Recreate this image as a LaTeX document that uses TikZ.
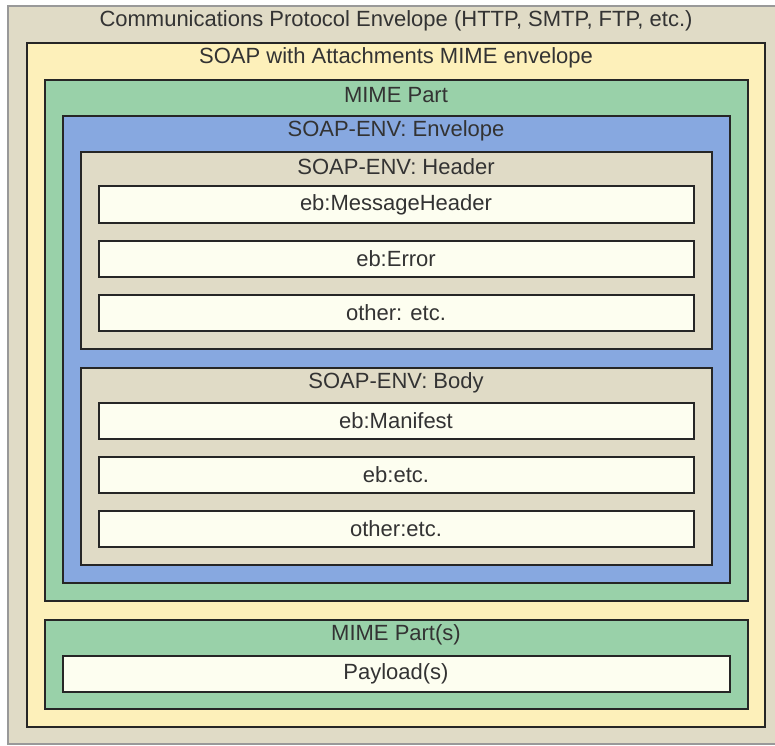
\documentclass[tikz,border=0pt]{standalone}
\usepackage{fontspec}
\setmainfont{Liberation Sans}
\begin{document}
\begin{tikzpicture}[x=1pt,y=-1pt,
  box/.style={draw=black!85,line width=1.6pt},
  beige/.style={box,fill=beigec},
  yel/.style={box,fill=yelc},
  grn/.style={box,fill=grnc},
  blu/.style={box,fill=bluc},
  wht/.style={box,fill=whtc},
  lbl/.style={font=\fontsize{22}{24}\selectfont,text=black!80,inner sep=0pt,anchor=center}]
\definecolor{beigec}{HTML}{E0DBC6}
\definecolor{yelc}{HTML}{FDF0BA}
\definecolor{grnc}{HTML}{99D1A9}
\definecolor{bluc}{HTML}{87A8E0}
\definecolor{whtc}{HTML}{FDFEF0}
\useasboundingbox (0,0) rectangle (775,745);
\clip (0,0) rectangle (775,745);
\fill[white] (0,0) rectangle (775,745);
% outer
\draw[fill=beigec,draw=black!40,line width=1.2pt] (8,6) rectangle (790,744);
\node[lbl] (tcomm) at (396,21) {Communications Protocol Envelope (HTTP, SMTP, FTP, etc.)};
% yellow
\draw[yel] (27,43) rectangle (765,727);
\node[lbl] (tsoap) at (396,58) {SOAP with Attachments MIME envelope};
% MIME Part
\draw[grn] (45,80) rectangle (748,601);
\node[lbl] (tmime) at (396,95) {MIME Part};
% Envelope
\draw[blu] (63,116) rectangle (730,583);
\node[lbl] (tenv) at (396,131) {SOAP-ENV: Envelope};
% Header
\draw[beige] (81,152) rectangle (712,349);
\node[lbl] (thead) at (396,167) {SOAP-ENV: Header};
\draw[wht] (99,186) rectangle (694,223);
\node[lbl] (mh) at (396,205) {eb:MessageHeader};
\draw[wht] (99,241) rectangle (694,277);
\node[lbl] (err) at (396,259) {eb:Error};
\draw[wht] (99,295) rectangle (694,331);
\node[lbl] (oth1) at (396,313) {other: etc.};
% Body
\draw[beige] (81,368) rectangle (712,565);
\node[lbl] (tbody) at (396,383) {SOAP-ENV: Body};
\draw[wht] (99,403) rectangle (694,439);
\node[lbl] (man) at (396,421) {eb:Manifest};
\draw[wht] (99,457) rectangle (694,493);
\node[lbl] (ebetc) at (396,475) {eb:etc.};
\draw[wht] (99,511) rectangle (694,547);
\node[lbl] (oth2) at (396,529) {other:etc.};
% MIME Parts
\draw[grn] (45,620) rectangle (748,709);
\node[lbl] (tparts) at (396,635) {MIME Part(s)};
\draw[wht] (63,656) rectangle (730,692);
\node[lbl] (pay) at (396,674) {Payload(s)};
\end{tikzpicture}
\end{document}
